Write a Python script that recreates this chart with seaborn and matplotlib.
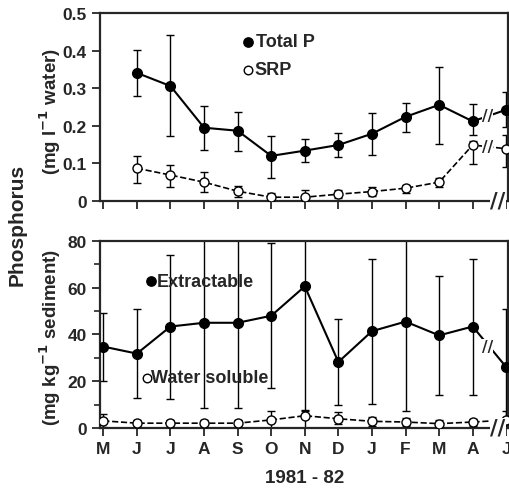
import numpy as np
import pandas as pd
import matplotlib
matplotlib.use("Agg")
import matplotlib.pyplot as plt
import seaborn as sns

months = ["M", "J", "J", "A", "S", "O", "N", "D", "J", "F", "M", "A", "J"]

# Top panel (water), June 1981 .. June 1982 (index 1..12)
total_p = [0.341, 0.306, 0.195, 0.187, 0.120, 0.134, 0.149, 0.179, 0.224, 0.256, 0.212, 0.243]
total_p_hi = [0.403, 0.443, 0.253, 0.238, 0.174, 0.164, 0.181, 0.235, 0.261, 0.356, 0.259, 0.290]
total_p_lo = [0.280, 0.174, 0.136, 0.134, 0.062, 0.103, 0.116, 0.123, 0.183, 0.152, 0.175, 0.197]
srp = [0.087, 0.069, 0.050, 0.026, 0.010, 0.010, 0.018, 0.025, 0.034, 0.050, 0.149, 0.139]
srp_hi = [0.120, 0.096, 0.077, 0.041, 0.020, 0.030, 0.030, 0.037, 0.043, 0.060, 0.160, 0.175]
srp_lo = [0.047, 0.038, 0.023, 0.010, 0.000, 0.000, 0.007, 0.014, 0.022, 0.037, 0.099, 0.090]

# Bottom panel (sediment), May 1981 .. June 1982 (index 0..12)
extract = [34.8, 31.8, 43.4, 45.0, 45.0, 48.0, 60.6, 28.2, 41.4, 45.5, 39.6, 43.4, 26.0]
extract_hi = [49.0, 51.0, 74.0, 95.0, 95.0, 79.0, 95.0, 46.5, 72.3, 95.0, 65.0, 72.3, 51.0]
extract_lo = [20.0, 12.9, 12.5, 8.6, 8.6, 17.0, 7.3, 10.0, 10.4, 7.3, 14.0, 14.0, 1.0]
water_sol = [3.0, 2.0, 2.0, 2.0, 2.0, 3.4, 5.2, 3.9, 2.8, 2.5, 1.8, 2.5, 3.3]
water_sol_hi = [6.0, 3.5, 3.5, 3.5, 3.5, 7.3, 7.5, 6.6, 4.5, 4.3, 3.5, 4.0, 7.3]
water_sol_lo = [0.5, 0.5, 0.5, 0.5, 0.5, 0.0, 0.0, 1.5, 1.0, 1.0, 0.5, 1.0, 0.0]

sns.set_style("ticks")
plt.rcParams["font.family"] = ["Liberation Sans", "DejaVu Sans"]
plt.rcParams["font.weight"] = "bold"
NARROW = ["Liberation Sans Narrow", "Liberation Sans", "DejaVu Sans"]

fig = plt.figure(figsize=(5.10, 4.89), dpi=100)
ax1 = fig.add_axes([0.196, 0.587, 0.800, 0.384])
ax2 = fig.add_axes([0.196, 0.123, 0.800, 0.382])

xt = np.arange(1, 13)
xb = np.arange(0, 13)

def draw(ax, x, y, lo, hi, filled, dashed, brk=True):
    df = pd.DataFrame({"x": x, "y": y})
    err = [np.array(y) - np.array(lo), np.array(hi) - np.array(y)]
    ax.errorbar(x, y, yerr=err, fmt="none", ecolor="black", elinewidth=1.0,
                capsize=3, capthick=1.0, zorder=2)
    sns.lineplot(data=df, x="x", y="y", ax=ax, color="black",
                 linestyle="--" if dashed else "-", linewidth=1.2 if dashed else 1.5,
                 marker="o", markersize=7 if filled else 6.5,
                 markerfacecolor="black" if filled else "white",
                 markeredgecolor="black", markeredgewidth=1.0, zorder=3)
    if brk:
        # break marks between A and J
        xm = (x[-2] + x[-1]) / 2 - 0.05
        ym = (y[-2] + y[-1]) / 2
        ax.text(xm, ym, "//", ha="center", va="center", fontsize=11, fontweight="bold",
                family="DejaVu Sans", zorder=4,
                bbox=dict(facecolor="white", edgecolor="none", pad=0.0))

draw(ax1, xt, total_p, total_p_lo, total_p_hi, True, False)
draw(ax1, xt, srp, srp_lo, srp_hi, False, True)
draw(ax2, xb, extract, extract_lo, extract_hi, True, False)
draw(ax2, xb, water_sol, water_sol_lo, water_sol_hi, False, True, brk=False)

for ax in (ax1, ax2):
    ax.set_xlim(-0.1, 12.05)
    ax.set_xticks(np.arange(0, 13))
    ax.set_xlabel("")
    ax.set_ylabel("")
    for s in ax.spines.values():
        s.set_linewidth(1.6)
        s.set_visible(True)
    ax.tick_params(axis="both", direction="out", length=6, width=1.3,
                   labelsize=12.5)

ax1.set_ylim(0, 0.5)
ax1.set_yticks([0, 0.1, 0.2, 0.3, 0.4, 0.5])
ax1.set_yticklabels(["0", "0.1", "0.2", "0.3", "0.4", "0.5"], fontweight="bold")
ax1.set_xticklabels([])

ax2.set_ylim(0, 80)
ax2.set_yticks([0, 20, 40, 60, 80])
ax2.set_yticklabels(["0", "20", "40", "60", "80"], fontweight="bold")
ax2.set_yticks([10, 30, 50, 70], minor=True)
ax2.tick_params(axis="y", which="minor", direction="out", length=4, width=1.2)
ax2.set_xticklabels(months, fontweight="bold")

# axis break marks on the x-axis
for ax in (ax1, ax2):
    ax.text(11.75, 0, "//", transform=ax.get_xaxis_transform(), ha="center", va="center",
            fontsize=15, fontweight="bold", family="DejaVu Sans", clip_on=False, zorder=5,
            bbox=dict(facecolor="white", edgecolor="none", pad=0.0))

# inline legends
ax1.scatter([4.3], [0.424], s=45, color="black", zorder=5)
ax1.text(4.55, 0.424, "Total P", va="center", fontsize=13, fontweight="bold", family=NARROW)
ax1.scatter([4.3], [0.349], s=38, facecolor="white", edgecolor="black", linewidth=1.0, zorder=5)
ax1.text(4.5, 0.349, "SRP", va="center", fontsize=13, fontweight="bold", family=NARROW)

ax2.scatter([1.42], [62.8], s=45, color="black", zorder=5)
ax2.text(1.58, 62.8, "Extractable", va="center", fontsize=13, fontweight="bold", family=NARROW)
ax2.scatter([1.31], [21.5], s=38, facecolor="white", edgecolor="black", linewidth=1.0, zorder=5)
ax2.text(1.43, 21.5, "Water soluble", va="center", fontsize=13, fontweight="bold", family=NARROW)

fig.text(0.033, 0.54, "Phosphorus", rotation=90, ha="center", va="center",
         fontsize=15, fontweight="bold")
fig.text(0.098, 0.772, "(mg l$^{-1}$ water)", rotation=90, ha="center", va="center",
         fontsize=13.5, fontweight="bold", family=NARROW)
fig.text(0.098, 0.31, "(mg kg$^{-1}$ sediment)", rotation=90, ha="center", va="center",
         fontsize=13.5, fontweight="bold", family=NARROW)
fig.text(0.598, 0.022, "1981 - 82", ha="center", va="center", fontsize=13.5, fontweight="bold")

fig.savefig("out.png", dpi=100)
